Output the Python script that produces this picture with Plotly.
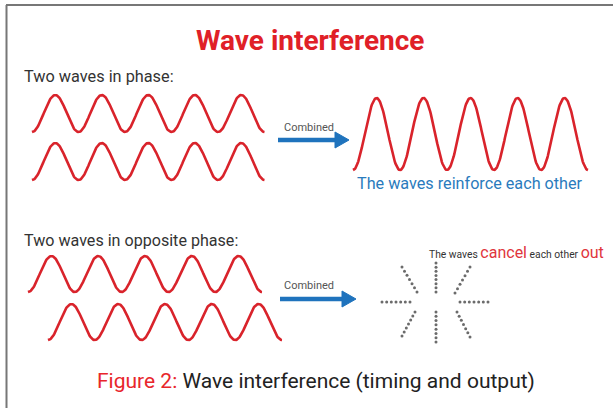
import numpy as np
import plotly.graph_objects as go

W, H = 613, 408

# ---- wave descriptions (left start, centre line, amplitude, period, cycles)
wave_names = ["in phase A", "in phase B", "reinforced", "opposite A", "opposite B"]
wave_x0 = [32, 32, 353, 28, 48]
wave_mid = [113.5, 161.5, 134, 274, 322]
wave_amp = [18.5, 18.5, 36, 18, 18]
wave_period = [46.5, 46.5, 47, 46.8, 46.8]
wave_cycles = [5, 5, 5, 5, 5]

# ---- cancel-out starburst rays (start/end of each dotted ray)
ray_x0 = [382, 460, 436, 436, 402, 470, 415, 457]
ray_y0 = [302, 302, 263, 312, 267, 267, 312, 312]
ray_x1 = [410, 488, 436, 436, 417, 455, 402, 470]
ray_y1 = [302, 302, 292, 342, 292, 293, 336, 337]
ray_dots = [7, 7, 8, 8, 7, 7, 7, 7]

# ---- arrows
arrow_y = [140, 299]
arrow_x0 = [278, 280]
arrow_x1 = [349, 356]

RED = "#d9232b"
BLUE = "#1f73bd"
FONT = "Roboto, DejaVu Sans, sans-serif"

fig = go.Figure()

for name, x0, mid, amp, per, cyc in zip(wave_names, wave_x0, wave_mid, wave_amp, wave_period, wave_cycles):
    x = np.linspace(x0, x0 + per * cyc, 400)
    y = mid + amp * np.cos(2 * np.pi * (x - x0) / per)
    fig.add_trace(go.Scatter(x=x, y=y, mode="lines", name=name,
                             line=dict(color=RED, width=2.6), hoverinfo="skip"))

dx, dy = [], []
for a, b, c, d, n in zip(ray_x0, ray_y0, ray_x1, ray_y1, ray_dots):
    t = np.linspace(0, 1, n)
    dx.extend(a + (c - a) * t)
    dy.extend(b + (d - b) * t)
fig.add_trace(go.Scatter(x=dx, y=dy, mode="markers", name="cancelled",
                         marker=dict(color="#6b6b6b", size=3), hoverinfo="skip"))

shapes = []
for y, x0, x1 in zip(arrow_y, arrow_x0, arrow_x1):
    shapes.append(dict(type="line", x0=x0, x1=x1 - 12, y0=y, y1=y,
                       line=dict(color=BLUE, width=4.5)))
    shapes.append(dict(type="path",
                       path=f"M {x1-14},{y-8} L {x1},{y} L {x1-14},{y+8} Z",
                       fillcolor=BLUE, line=dict(color=BLUE, width=1)))
# frame
shapes.append(dict(type="line", x0=6, x1=W, y0=5, y1=5, line=dict(color="#777777", width=2)))
shapes.append(dict(type="line", x0=6.5, x1=6.5, y0=5, y1=H, line=dict(color="#777777", width=2)))

ann = [
    dict(x=310, y=40, text="<b>Wave interference</b>", font=dict(size=28, color="#e02027")),
    dict(x=22, y=76, text="Two waves in phase:", xanchor="left", font=dict(size=16.3, color="#333333")),
    dict(x=309, y=127, text="Combined", font=dict(size=11, color="#555555")),
    dict(x=470, y=183, text="The waves reinforce each other", font=dict(size=16.2, color="#2a7bbd")),
    dict(x=22, y=240, text="Two waves in opposite phase:", xanchor="left", font=dict(size=16.1, color="#333333")),
    dict(x=309, y=285, text="Combined", font=dict(size=11, color="#555555")),
    dict(x=606, y=252, xanchor="right",
         text="The waves <span style='color:#e0353d;font-size:16px'>cancel</span> each other "
              "<span style='color:#e0353d;font-size:16px'>out</span>",
         font=dict(size=10.3, color="#333333")),
    dict(x=316, y=381,
         text="<span style='color:#e8262b'>Figure 2:</span> Wave interference (timing and output)",
         font=dict(size=21, color="#222222")),
]
for a in ann:
    a.update(showarrow=False, xref="x", yref="y")
    a.setdefault("xanchor", "center")
    a["yanchor"] = "middle"
    a["font"]["family"] = FONT

fig.update_layout(
    width=W, height=H, margin=dict(l=0, r=0, t=0, b=0),
    paper_bgcolor="white", plot_bgcolor="white", showlegend=False,
    xaxis=dict(range=[0, W], visible=False, fixedrange=True),
    yaxis=dict(range=[H, 0], visible=False, fixedrange=True),
    shapes=shapes, annotations=ann,
)
fig.write_html("out.html", config=dict(displayModeBar=False),
               post_script="document.body.style.margin='0px';document.body.style.overflow='hidden';")
